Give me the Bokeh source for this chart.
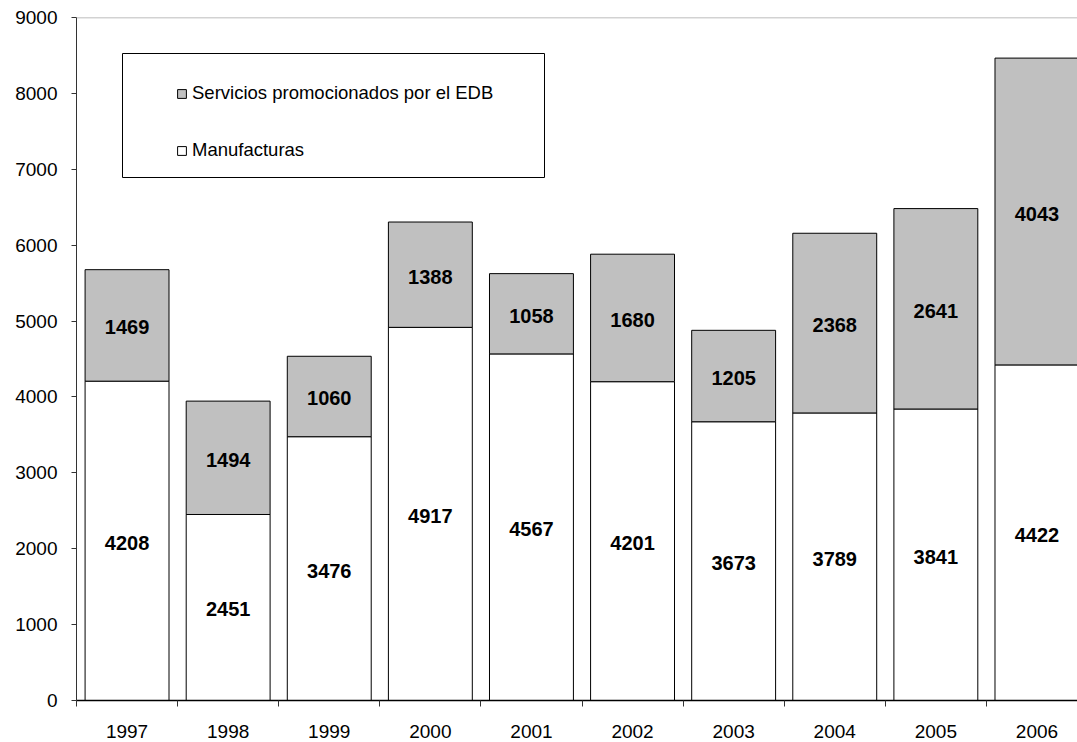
from bokeh.plotting import figure
from bokeh.models import (ColumnDataSource, Range1d, FixedTicker,
                          Legend, LegendItem, BoxAnnotation, Span)
from bokeh.core.properties import value
from bokeh.embed import file_html
from bokeh.resources import INLINE

years = ["1997", "1998", "1999", "2000", "2001", "2002", "2003", "2004", "2005", "2006"]
manufacturas = [4208, 2451, 3476, 4917, 4567, 4201, 3673, 3789, 3841, 4422]
servicios = [1469, 1494, 1060, 1388, 1058, 1680, 1205, 2368, 2641, 4043]
y_ticks = [0, 1000, 2000, 3000, 4000, 5000, 6000, 7000, 8000, 9000]

FONT = "Liberation Sans"
W, H = 1077, 742
LEFT, TOP, BOTTOM = 76, 17, 42
CAT_PX = 101.1

xs = list(range(len(years)))
frame_w = W - LEFT
x_end = -0.5 + frame_w / CAT_PX

src = ColumnDataSource(dict(
    x=xs,
    man=manufacturas,
    srv=servicios,
    top=[m + s for m, s in zip(manufacturas, servicios)],
    man_mid=[m / 2 for m in manufacturas],
    srv_mid=[m + s / 2 for m, s in zip(manufacturas, servicios)],
    man_lab=[str(v) for v in manufacturas],
    srv_lab=[str(v) for v in servicios],
))

p = figure(width=W, height=H, output_backend="svg", toolbar_location=None,
           x_range=Range1d(-0.5, x_end), y_range=Range1d(0, 9000),
           min_border_left=LEFT, min_border_top=TOP, min_border_bottom=BOTTOM,
           min_border_right=0)
p.outline_line_color = None
p.xgrid.grid_line_color = None
p.ygrid.grid_line_color = None
p.background_fill_color = "white"
p.border_fill_color = "white"

r_man = p.vbar(x="x", bottom=0, top="man", width=0.83, source=src,
               fill_color="white", line_color="black", line_width=1)
r_srv = p.vbar(x="x", bottom="man", top="top", width=0.83, source=src,
               fill_color="#c0c0c0", line_color="black", line_width=1)

for ycol, tcol in (("man_mid", "man_lab"), ("srv_mid", "srv_lab")):
    p.text(x="x", y=ycol, text=tcol, source=src, text_align="center",
           text_baseline="middle", text_font=value(FONT), text_font_size="20px",
           text_font_style="bold", text_color="black", y_offset=2)

# top border line
p.add_layout(Span(location=9000, dimension="width", line_color="#a6a6a6", line_width=1.5))

# y axis
ya = p.yaxis[0]
ya.ticker = FixedTicker(ticks=y_ticks)
ya.axis_line_color = "#333333"
ya.major_tick_line_color = "#333333"
ya.major_tick_in = 0
ya.major_tick_out = 5
ya.minor_tick_line_color = None
ya.major_label_text_font = FONT
ya.major_label_text_font_size = "19px"
ya.major_label_text_color = "black"
ya.major_label_standoff = 14

# x axis
xa = p.xaxis[0]
xa.ticker = FixedTicker(ticks=xs, minor_ticks=[i - 0.5 for i in xs])
xa.major_label_overrides = {i: y for i, y in zip(xs, years)}
xa.major_tick_line_color = None
xa.minor_tick_line_color = "#333333"
xa.minor_tick_in = 0
xa.minor_tick_out = 6
xa.axis_line_color = "black"
xa.axis_line_width = 1.5
xa.major_label_text_font = FONT
xa.major_label_text_font_size = "19px"
xa.major_label_text_color = "black"
xa.major_label_standoff = 18

# legend box
box = BoxAnnotation(left=122, right=544, top=53, bottom=177,
                    left_units="canvas", right_units="canvas",
                    top_units="canvas", bottom_units="canvas",
                    fill_color="white", fill_alpha=1.0,
                    line_color="black", line_width=1, line_alpha=1.0)
p.add_layout(box)

legend = Legend(items=[LegendItem(label="Servicios promocionados por el EDB", renderers=[r_srv]),
                       LegendItem(label="Manufacturas", renderers=[r_man])],
                location=(100, 539), padding=0, margin=0, spacing=35,
                glyph_width=11, glyph_height=11, label_standoff=5, label_height=20,
                border_line_color=None, background_fill_alpha=0,
                label_text_font=FONT, label_text_font_size="18.5px",
                label_text_color="black")
p.add_layout(legend)

open("out.html", "w").write(file_html(p, INLINE))
